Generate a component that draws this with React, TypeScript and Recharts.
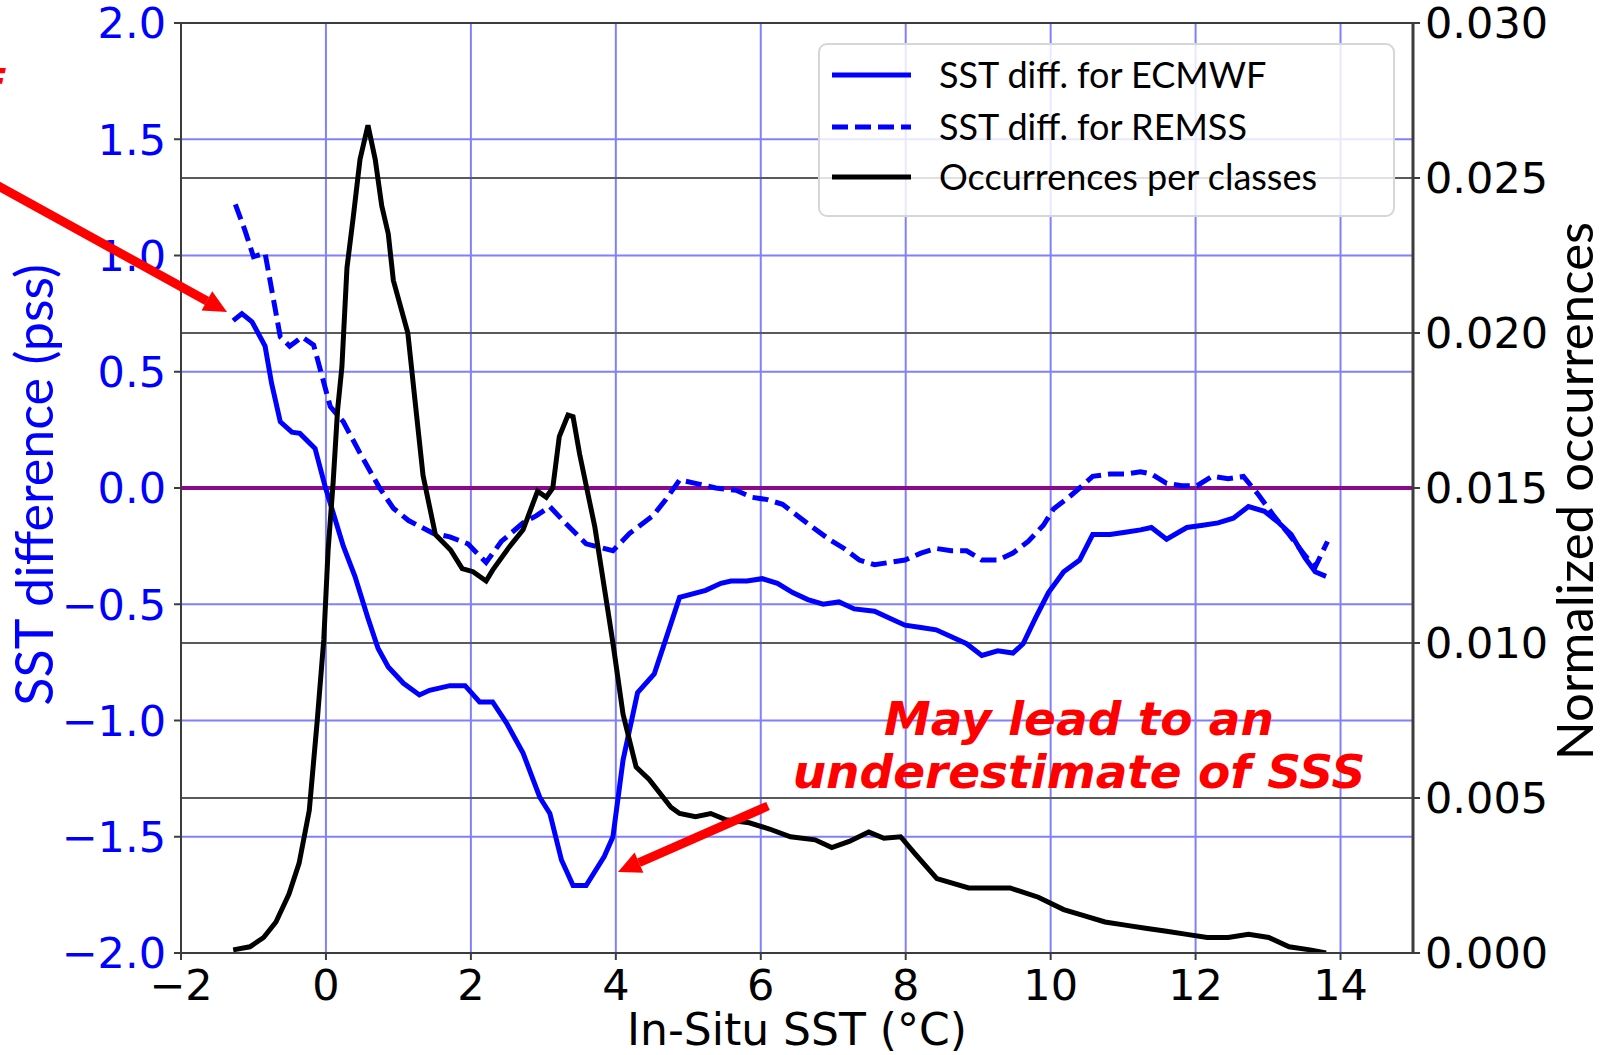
import React from 'react';
import {
  ComposedChart,
  Line,
  XAxis,
  YAxis,
  CartesianGrid,
  ReferenceLine,
  Legend,
} from 'recharts';

// Axis ticks
const sstTicks = [-2, 0, 2, 4, 6, 8, 10, 12, 14];
const diffTicks = [-2, -1.5, -1, -0.5, 0, 0.5, 1, 1.5, 2];
const occTicks = [0, 0.005, 0.01, 0.015, 0.02, 0.025, 0.03];

// Series names, in legend order
const seriesNames = ['SST diff. for ECMWF', 'SST diff. for REMSS', 'Occurrences per classes'];

// SST difference, ECMWF
const ecmwfSst = [
  -1.28, -1.16, -1.02, -0.84, -0.75, -0.63, -0.47, -0.36, -0.15, -0.01, 0.24, 0.4, 0.58, 0.72, 0.86, 1.07,
  1.29, 1.43, 1.71, 1.92, 2.12, 2.3, 2.49, 2.72, 2.95, 3.09, 3.25, 3.41, 3.59, 3.84, 3.96, 4.1, 4.3, 4.53,
  4.69, 4.88, 5.24, 5.45, 5.59, 5.81, 6.02, 6.23, 6.44, 6.65, 6.86, 7.08, 7.29, 7.57, 7.78, 7.99, 8.21,
  8.42, 8.63, 8.84, 9.05, 9.27, 9.48, 9.62, 9.79, 9.97, 10.18, 10.4, 10.58, 10.82, 11.03, 11.24, 11.39,
  11.6, 11.88, 12.1, 12.31, 12.52, 12.73, 12.95, 13.15, 13.32, 13.51, 13.65, 13.8,
];
const ecmwfDiff = [
  0.72, 0.75, 0.715, 0.61, 0.45, 0.285, 0.24, 0.235, 0.17, 0.005, -0.25, -0.38, -0.56, -0.69, -0.77, -0.84,
  -0.89, -0.87, -0.85, -0.85, -0.92, -0.92, -1.01, -1.14, -1.33, -1.4, -1.6, -1.71, -1.71, -1.585, -1.5,
  -1.17, -0.88, -0.8, -0.65, -0.47, -0.44, -0.41, -0.4, -0.4, -0.39, -0.41, -0.45, -0.48, -0.5, -0.49,
  -0.52, -0.53, -0.56, -0.59, -0.6, -0.61, -0.64, -0.67, -0.72, -0.7, -0.71, -0.67, -0.56, -0.45, -0.36,
  -0.31, -0.2, -0.2, -0.19, -0.18, -0.17, -0.22, -0.17, -0.16, -0.15, -0.13, -0.08, -0.1, -0.15, -0.2,
  -0.3, -0.36, -0.38,
];

// SST difference, REMSS
const remssSst = [
  -1.25, -1.12, -1.0, -0.84, -0.63, -0.5, -0.33, -0.17, 0.06, 0.24, 0.47, 0.74, 0.93, 1.14, 1.48, 1.71,
  1.96, 2.21, 2.42, 2.72, 2.9, 3.09, 3.27, 3.59, 3.96, 4.19, 4.51, 4.69, 4.88, 5.1, 5.38, 5.66, 5.88, 6.09,
  6.3, 6.51, 6.72, 6.94, 7.15, 7.36, 7.57, 7.78, 7.99, 8.21, 8.42, 8.63, 8.84, 9.05, 9.27, 9.48, 9.69,
  9.9, 10.04, 10.25, 10.4, 10.58, 10.82, 11.03, 11.24, 11.39, 11.6, 11.81, 12.02, 12.23, 12.45, 12.66,
  12.87, 13.08, 13.29, 13.51, 13.65, 13.82,
];
const remssDiff = [
  1.22, 1.11, 0.995, 1.01, 0.65, 0.61, 0.65, 0.615, 0.35, 0.285, 0.15, 0.0, -0.087, -0.14, -0.195, -0.21,
  -0.24, -0.32, -0.23, -0.15, -0.12, -0.08, -0.14, -0.24, -0.27, -0.195, -0.12, -0.05, 0.035, 0.02, 0.0,
  -0.01, -0.04, -0.05, -0.07, -0.12, -0.17, -0.22, -0.26, -0.31, -0.33, -0.32, -0.31, -0.28, -0.26, -0.27,
  -0.27, -0.31, -0.31, -0.28, -0.23, -0.16, -0.09, -0.04, 0.0, 0.05, 0.06, 0.06, 0.07, 0.06, 0.02, 0.01,
  0.01, 0.05, 0.04, 0.05, -0.03, -0.12, -0.2, -0.29, -0.34, -0.23,
];

// Normalized occurrences per SST class
const occSst = [
  -1.28, -1.05, -0.86, -0.69, -0.51, -0.37, -0.23, -0.12, -0.03, 0.03, 0.1, 0.16, 0.22, 0.29, 0.38, 0.47,
  0.58, 0.68, 0.77, 0.86, 0.93, 1.13, 1.23, 1.34, 1.51, 1.72, 1.88, 2.03, 2.21, 2.3, 2.53, 2.72, 2.92,
  3.04, 3.13, 3.22, 3.34, 3.41, 3.5, 3.71, 3.84, 3.96, 4.1, 4.28, 4.46, 4.76, 4.88, 5.1, 5.31, 5.52, 5.84,
  6.12, 6.41, 6.75, 6.98, 7.22, 7.49, 7.7, 7.93, 8.13, 8.43, 8.87, 9.44, 9.83, 10.18, 10.47, 10.75, 11.03,
  11.31, 11.6, 11.88, 12.16, 12.45, 12.73, 13.01, 13.29, 13.58, 13.8,
];
const occValue = [
  0.0001, 0.0002, 0.0005, 0.001, 0.0019, 0.0029, 0.0046, 0.0075, 0.0101, 0.013, 0.0152, 0.0175, 0.0189,
  0.0221, 0.0238, 0.0256, 0.0267, 0.0256, 0.0241, 0.0232, 0.0217, 0.02, 0.0178, 0.0154, 0.0135, 0.013,
  0.0124, 0.0123, 0.012, 0.01235, 0.0131, 0.01365, 0.0149, 0.0147, 0.015, 0.01666, 0.01735, 0.0173,
  0.0161, 0.01375, 0.0118, 0.01, 0.0077, 0.006, 0.0056, 0.0047, 0.0045, 0.0044, 0.0045, 0.0043, 0.0042,
  0.004, 0.00375, 0.00365, 0.0034, 0.0036, 0.0039, 0.0037, 0.00375, 0.0032, 0.0024, 0.0021, 0.0021,
  0.0018, 0.0014, 0.0012, 0.001, 0.0009, 0.0008, 0.0007, 0.0006, 0.0005, 0.0005, 0.0006, 0.0005, 0.0002,
  0.0001, 0.0,
];

const toPoints = (xs: number[], ys: number[]) => xs.map((x, i) => ({ x, y: ys[i] }));

const ecmwfData = toPoints(ecmwfSst, ecmwfDiff);
const remssData = toPoints(remssSst, remssDiff);
const occData = toPoints(occSst, occValue);

const MINUS = '\u2212';
const fmt = (v: number, digits: number) => {
  const s = Math.abs(v).toFixed(digits);
  return v < 0 ? MINUS + s : s;
};

const TICK_FONT = 'DejaVu Sans, sans-serif';
const LABEL_FONT = 'Lato, sans-serif';
const BLUE = '#0000ff';
const SPINE = '#3c3c3c';
const LINE_W = 5;
const DASH = '16 7';

// Rotated axis title used for both vertical axes
const VerticalTitle = (props: { cx: number; cy: number; text: string; color: string; size: number }) => (
  <text
    x={props.cx}
    y={props.cy}
    transform={`rotate(-90 ${props.cx} ${props.cy})`}
    textAnchor="middle"
    fill={props.color}
    fontSize={props.size}
    fontFamily={LABEL_FONT}
  >
    {props.text}
  </text>
);

const BottomTitle = () => (
  <text x={797} y={1045} textAnchor="middle" fill="#000" fontSize={44} fontFamily={TICK_FONT}>
    In-Situ SST (°C)
  </text>
);

const LegendBox = (props: any) => {
  const payload = ([...(props.payload || [])] as any[]).sort(
    (a, b) => seriesNames.indexOf(a.value) - seriesNames.indexOf(b.value),
  );
  const rows = [32, 84, 134];
  return (
    <svg width={578} height={175} style={{ display: 'block' }}>
      <rect
        x={1}
        y={1}
        width={575}
        height={172}
        rx={8}
        ry={8}
        fill="#ffffff"
        fillOpacity={0.82}
        stroke="#d6d6d6"
        strokeWidth={2}
      />
      {payload.map((entry, i) => (
        <g key={entry.value}>
          <line
            x1={14}
            x2={93}
            y1={rows[i]}
            y2={rows[i]}
            stroke={entry.color}
            strokeWidth={LINE_W}
            strokeDasharray={entry.payload?.strokeDasharray}
          />
          <text x={121} y={rows[i] + 13} fontSize={36} fontFamily={LABEL_FONT} fill="#000">
            {entry.value}
          </text>
        </g>
      ))}
    </svg>
  );
};

const Annotations = () => (
  <svg
    width={1600}
    height={1055}
    style={{ position: 'absolute', left: 0, top: 0, pointerEvents: 'none', overflow: 'hidden' }}
  >
    <g fill="#ff0000" fontFamily={TICK_FONT} fontWeight="bold" fontStyle="italic" fontSize={47}>
      <text x={1} y={103} textAnchor="end">overestimate of</text>
      <text x={1079} y={735} textAnchor="middle">May lead to an</text>
      <text x={1079} y={788} textAnchor="middle">underestimate of SSS</text>
    </g>
    <g stroke="#ff0000" strokeWidth={9} strokeLinecap="butt">
      <line x1={-20} y1={175.8} x2={207} y2={301} />
      <line x1={768} y1={806} x2={639} y2={862.7} />
    </g>
    <g fill="#ff0000">
      <polygon points="227,312 201.6,310.5 212.2,291.3" />
      <polygon points="618,872 643.4,872.8 634.6,852.6" />
    </g>
  </svg>
);

export default function App() {
  return (
    <div style={{ position: 'absolute', left: 0, top: 0, width: 1600, height: 1055, background: '#fff' }}>
      <ComposedChart width={1600} height={1055} margin={{ top: 23, right: 0, bottom: 0, left: 0 }}>
        <CartesianGrid stroke="#8080ff" strokeWidth={2} />
        {occTicks
          .filter((v) => v > 0 && v < 0.03 && v !== 0.015)
          .map((v) => (
            <ReferenceLine key={v} yAxisId="right" y={v} stroke="#5a5a5a" strokeWidth={2} />
          ))}
        <ReferenceLine y={0} stroke="#8a0a8a" strokeWidth={4} />
        <ReferenceLine y={2} stroke={SPINE} strokeWidth={2} />
        <XAxis
          dataKey="x"
          type="number"
          domain={[-2, 15]}
          ticks={sstTicks}
          interval={0}
          allowDataOverflow
          height={102}
          tickSize={7}
          tickMargin={9}
          tickFormatter={(v: number) => fmt(v, 0)}
          tick={{ fill: '#000', fontSize: 43, fontFamily: TICK_FONT }}
          axisLine={{ stroke: SPINE, strokeWidth: 2 }}
          tickLine={{ stroke: SPINE, strokeWidth: 2 }}
          label={<BottomTitle />}
        />
        <YAxis
          type="number"
          domain={[-2, 2]}
          ticks={diffTicks}
          interval={0}
          allowDataOverflow
          width={181}
          tickSize={7}
          tickMargin={8}
          tickFormatter={(v: number) => fmt(v, 1)}
          tick={{ fill: BLUE, fontSize: 43, fontFamily: TICK_FONT }}
          axisLine={{ stroke: SPINE, strokeWidth: 2 }}
          tickLine={{ stroke: SPINE, strokeWidth: 2 }}
          label={<VerticalTitle cx={53} cy={485} text="SST difference (pss)" color={BLUE} size={52} />}
        />
        <YAxis
          yAxisId="right"
          orientation="right"
          type="number"
          domain={[0, 0.03]}
          ticks={occTicks}
          interval={0}
          allowDataOverflow
          width={187}
          tickSize={7}
          tickMargin={5}
          tickFormatter={(v: number) => v.toFixed(3)}
          tick={{ fill: '#000', fontSize: 43, fontFamily: TICK_FONT }}
          axisLine={{ stroke: SPINE, strokeWidth: 3 }}
          tickLine={{ stroke: SPINE, strokeWidth: 2 }}
          label={<VerticalTitle cx={1593} cy={491} text="Normalized occurrences" color="#000" size={51} />}
        />
        <Line
          name={seriesNames[0]}
          data={ecmwfData}
          dataKey="y"
          type="linear"
          stroke={BLUE}
          strokeWidth={LINE_W}
          dot={false}
          activeDot={false}
          isAnimationActive={false}
        />
        <Line
          name={seriesNames[1]}
          data={remssData}
          dataKey="y"
          type="linear"
          stroke={BLUE}
          strokeWidth={LINE_W}
          strokeDasharray={DASH}
          dot={false}
          activeDot={false}
          isAnimationActive={false}
        />
        <Line
          name={seriesNames[2]}
          yAxisId="right"
          data={occData}
          dataKey="y"
          type="linear"
          stroke="#000"
          strokeWidth={LINE_W}
          dot={false}
          activeDot={false}
          isAnimationActive={false}
        />
        <Legend
          layout="horizontal"
          align="center"
          verticalAlign="middle"
          content={<LegendBox />}
          wrapperStyle={{ left: 818, top: 43, width: 578, height: 175 }}
        />
      </ComposedChart>
      <Annotations />
    </div>
  );
}
